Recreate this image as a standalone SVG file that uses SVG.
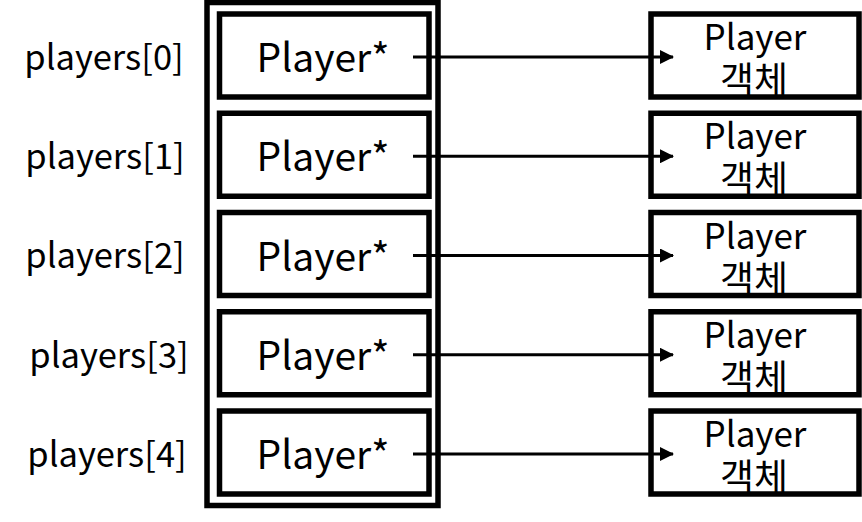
<svg xmlns="http://www.w3.org/2000/svg" width="862" height="522" viewBox="0 0 862 522">
<style>
.box{fill:#fff;stroke:#000;stroke-width:5.5}
.t{font-family:"Noto Sans CJK KR","Noto Sans",sans-serif;fill:#000;text-anchor:middle}
.lbl{font-size:34.5px}
.ptr{font-size:39px}
.obj{font-size:35px}
.kr{font-size:37px}
.conn line{stroke:#000;stroke-width:3;marker-end:url(#ah)}
</style>
<defs>
<marker id="ah" markerWidth="14" markerHeight="14" refX="13" refY="7" orient="auto" markerUnits="userSpaceOnUse">
<path d="M0,0 L14,7 L0,14 Z" fill="#000"/>
</marker>
</defs>
<rect width="862" height="522" fill="#fff"/>
<g id="array"><rect class="box" x="207" y="2.5" width="231" height="503"/></g>
<g id="label0"><text class="t lbl" x="104" y="70">players[0]</text></g>
<g id="label1"><text class="t lbl" x="105" y="169">players[1]</text></g>
<g id="label2"><text class="t lbl" x="105" y="268">players[2]</text></g>
<g id="label3"><text class="t lbl" x="109" y="368">players[3]</text></g>
<g id="label4"><text class="t lbl" x="107" y="467">players[4]</text></g>
<g id="ptr0"><rect class="box" x="219.5" y="14" width="209.5" height="83"/><text class="t ptr" x="323" y="72">Player*</text></g>
<g id="ptr1"><rect class="box" x="219.5" y="113.25" width="209.5" height="83"/><text class="t ptr" x="323" y="171.25">Player*</text></g>
<g id="ptr2"><rect class="box" x="219.5" y="212.5" width="209.5" height="83"/><text class="t ptr" x="323" y="270.5">Player*</text></g>
<g id="ptr3"><rect class="box" x="219.5" y="311.75" width="209.5" height="83"/><text class="t ptr" x="323" y="369.75">Player*</text></g>
<g id="ptr4"><rect class="box" x="219.5" y="411" width="209.5" height="83"/><text class="t ptr" x="323" y="469">Player*</text></g>
<g id="obj0"><rect class="box" x="651" y="14" width="208" height="83"/><text class="t obj" x="755" y="50">Player</text><text class="t kr" x="754" y="94">객체</text></g>
<g id="obj1"><rect class="box" x="651" y="113.25" width="208" height="83"/><text class="t obj" x="755" y="149.25">Player</text><text class="t kr" x="754" y="193.25">객체</text></g>
<g id="obj2"><rect class="box" x="651" y="212.5" width="208" height="83"/><text class="t obj" x="755" y="248.5">Player</text><text class="t kr" x="754" y="292.5">객체</text></g>
<g id="obj3"><rect class="box" x="651" y="311.75" width="208" height="83"/><text class="t obj" x="755" y="347.75">Player</text><text class="t kr" x="754" y="391.75">객체</text></g>
<g id="obj4"><rect class="box" x="651" y="411" width="208" height="83"/><text class="t obj" x="755" y="447">Player</text><text class="t kr" x="754" y="491">객체</text></g>
<g class="conn" id="connectors">
<line x1="413" y1="57" x2="673" y2="57"/>
<line x1="413" y1="156.25" x2="673" y2="156.25"/>
<line x1="413" y1="255.5" x2="673" y2="255.5"/>
<line x1="413" y1="354.75" x2="673" y2="354.75"/>
<line x1="413" y1="454" x2="673" y2="454"/>
</g>
</svg>
